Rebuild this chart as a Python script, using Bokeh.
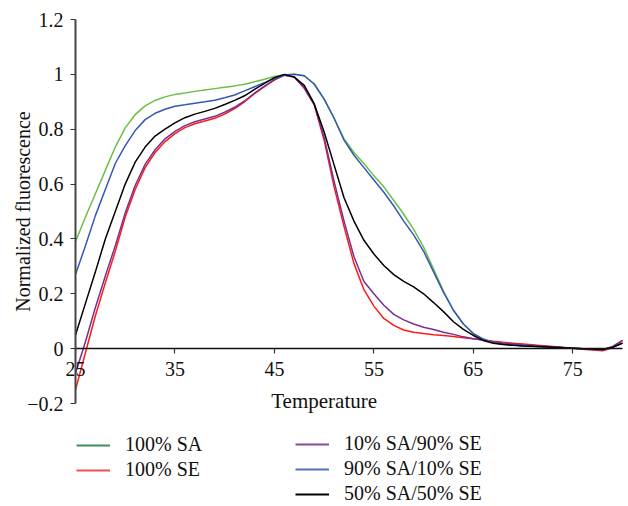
from bokeh.plotting import figure
from bokeh.models import Range1d, FixedTicker, Legend, LegendItem, Label
from bokeh.embed import file_html
from bokeh.resources import INLINE

# ---------------- data ----------------
temperature = [25, 26, 27, 28, 29, 30, 31, 32, 33, 34, 35, 36, 37, 38, 39, 40,
               41, 42, 43, 44, 45, 46, 47, 48, 49, 50, 51, 52, 53, 54, 55, 56,
               57, 58, 59, 60, 61, 62, 63, 64, 65, 66, 67, 68, 69, 70, 72, 74,
               76, 78, 79, 80]

sa100 = [0.39, 0.48, 0.565, 0.65, 0.735, 0.805, 0.853, 0.885, 0.905, 0.918, 0.927, 0.932,
         0.938, 0.943, 0.948, 0.953, 0.958, 0.964, 0.973, 0.982, 0.992, 0.999, 1.0, 0.995,
         0.965, 0.91, 0.84, 0.765, 0.715, 0.675, 0.63, 0.59, 0.54, 0.49, 0.435, 0.37,
         0.29, 0.21, 0.14, 0.09, 0.055, 0.035, 0.022, 0.016, 0.013, 0.011, 0.007, 0.003,
         0.0, -0.003, 0.005, 0.02]

se100 = [-0.15, -0.015, 0.12, 0.24, 0.355, 0.48, 0.58, 0.66, 0.715, 0.755, 0.784, 0.806,
         0.82, 0.83, 0.84, 0.855, 0.875, 0.9, 0.93, 0.955, 0.98, 0.997, 0.99, 0.95,
         0.89, 0.76, 0.59, 0.445, 0.31, 0.215, 0.155, 0.11, 0.085, 0.068, 0.06, 0.055,
         0.051, 0.048, 0.044, 0.04, 0.036, 0.032, 0.027, 0.023, 0.02, 0.017, 0.011, 0.005,
         -0.002, -0.008, 0.003, 0.03]

sa10_se90 = [-0.09, 0.025, 0.15, 0.265, 0.375, 0.495, 0.595, 0.672, 0.725, 0.765, 0.792, 0.813,
             0.827, 0.837, 0.847, 0.862, 0.88, 0.903, 0.932, 0.957, 0.98, 0.997, 0.99, 0.95,
             0.89, 0.77, 0.61, 0.465, 0.335, 0.245, 0.2, 0.158, 0.125, 0.105, 0.09, 0.078,
             0.07, 0.06, 0.052, 0.043, 0.036, 0.031, 0.025, 0.02, 0.017, 0.014, 0.009, 0.004,
             0.0, -0.005, 0.008, 0.03]

sa90_se10 = [0.27, 0.375, 0.485, 0.58, 0.675, 0.74, 0.795, 0.835, 0.858, 0.873, 0.884, 0.889,
             0.895, 0.9, 0.906, 0.915, 0.925, 0.94, 0.955, 0.97, 0.985, 0.997, 1.0, 0.995,
             0.965, 0.91, 0.84, 0.76, 0.705, 0.66, 0.615, 0.57, 0.52, 0.465, 0.415, 0.355,
             0.28, 0.205, 0.14, 0.09, 0.055, 0.035, 0.022, 0.016, 0.013, 0.011, 0.007, 0.003,
             0.0, -0.003, 0.005, 0.02]

sa50_se50 = [0.05, 0.165, 0.28, 0.4, 0.5, 0.6, 0.68, 0.735, 0.775, 0.8, 0.823, 0.842,
             0.855, 0.865, 0.876, 0.89, 0.905, 0.922, 0.945, 0.967, 0.988, 1.0, 0.99, 0.96,
             0.893, 0.79, 0.67, 0.55, 0.465, 0.395, 0.345, 0.303, 0.27, 0.245, 0.225, 0.2,
             0.168, 0.135, 0.098, 0.07, 0.048, 0.03, 0.02, 0.015, 0.012, 0.01, 0.007, 0.003,
             0.0, -0.003, 0.005, 0.02]

series_labels = ["100% SA", "100% SE", "10% SA/90% SE", "90% SA/10% SE", "50% SA/50% SE"]

x_ticks = [25, 35, 45, 55, 65, 75]
y_ticks = [-0.2, 0, 0.2, 0.4, 0.6, 0.8, 1, 1.2]
y_tick_labels = ["\u22120.2", "0", "0.2", "0.4", "0.6", "0.8", "1", "1.2"]

x_title = "Temperature"
y_title = "Normalized fluorescence"

# ---------------- style ----------------
FONT = "Liberation Serif"
line_colors = ["#6abf45", "#ff1a1a", "#7a2f8e", "#3558b8", "#000000"]
legend_colors = ["#3d8f5e", "#ee5050", "#8a4a9c", "#5070b8", "#000000"]

W, H = 628, 506
# frame covers the whole canvas; the axes are drawn at fixed data locations
p = figure(width=W, height=H, output_backend="svg", toolbar_location=None,
           x_range=Range1d(17.46, 80.6), y_range=Range1d(-0.5755, 1.2693),
           min_border=0, min_border_left=0, min_border_right=0,
           min_border_top=0, min_border_bottom=0)
p.outline_line_color = None
p.xgrid.visible = False
p.ygrid.visible = False
p.background_fill_color = "white"
p.border_fill_color = "white"

all_series = [sa100, se100, sa10_se90, sa90_se10, sa50_se50]
for ys, c in zip(all_series, line_colors):
    p.line(temperature, ys, line_color=c, line_width=1.5)

# x axis crossing at y = 0
xa = p.xaxis[0]
xa.fixed_location = 0
xa.bounds = (x_ticks[0], temperature[-1])
xa.ticker = FixedTicker(ticks=x_ticks)
xa.minor_tick_line_color = None
xa.major_tick_in = 0
xa.major_tick_out = 5
xa.major_label_standoff = 8
xa.axis_line_color = "#111111"
xa.axis_line_width = 1.5
xa.major_tick_line_color = "#333333"
xa.major_tick_line_width = 1.2
xa.major_label_text_font = FONT
xa.major_label_text_font_size = "20px"
xa.major_label_text_color = "#111111"

# y axis at x = 25
ya = p.yaxis[0]
ya.fixed_location = x_ticks[0]
ya.bounds = (y_ticks[0], y_ticks[-1])
ya.ticker = FixedTicker(ticks=y_ticks)
ya.major_label_overrides = {t: s for t, s in zip(y_ticks, y_tick_labels)}
ya.minor_tick_line_color = None
ya.major_tick_in = 0
ya.major_tick_out = 5
ya.major_label_standoff = 7
ya.axis_line_color = "#444444"
ya.axis_line_width = 2
ya.major_tick_line_color = "#333333"
ya.major_tick_line_width = 1.2
ya.major_label_text_font = FONT
ya.major_label_text_font_size = "20px"
ya.major_label_text_color = "#111111"

# axis titles
p.add_layout(Label(x=50, y=y_ticks[0], y_offset=3, text=x_title, text_align="center",
                   text_baseline="middle", text_font=FONT, text_font_size="21px",
                   text_color="#111111"))
p.add_layout(Label(x=19.7, y=0.5, text=y_title, angle=1.5707963, text_align="center",
                   text_baseline="middle", text_font=FONT, text_font_size="20px",
                   text_color="#111111"))

# legend: two column blocks (proxy renderers carry the legend colours, draw nothing)
nan = float("nan")
legend_renderers = [p.line([nan, nan], [nan, nan], line_color=c, line_width=1.8)
                    for c in legend_colors]
items = [LegendItem(label=l, renderers=[r]) for l, r in zip(series_labels, legend_renderers)]


def make_legend(its, loc):
    return Legend(items=its, location=loc, orientation="vertical",
                  border_line_color=None, background_fill_alpha=0,
                  padding=0, margin=0, spacing=2,
                  glyph_width=34, glyph_height=20, label_height=20,
                  label_standoff=15, label_text_font=FONT,
                  label_text_font_size="20px", label_text_color="#111111")


p.add_layout(make_legend(items[:2], (76, 25)))
p.add_layout(make_legend(items[2:], (295, 1)))

open("out.html", "w").write(file_html(p, INLINE))
